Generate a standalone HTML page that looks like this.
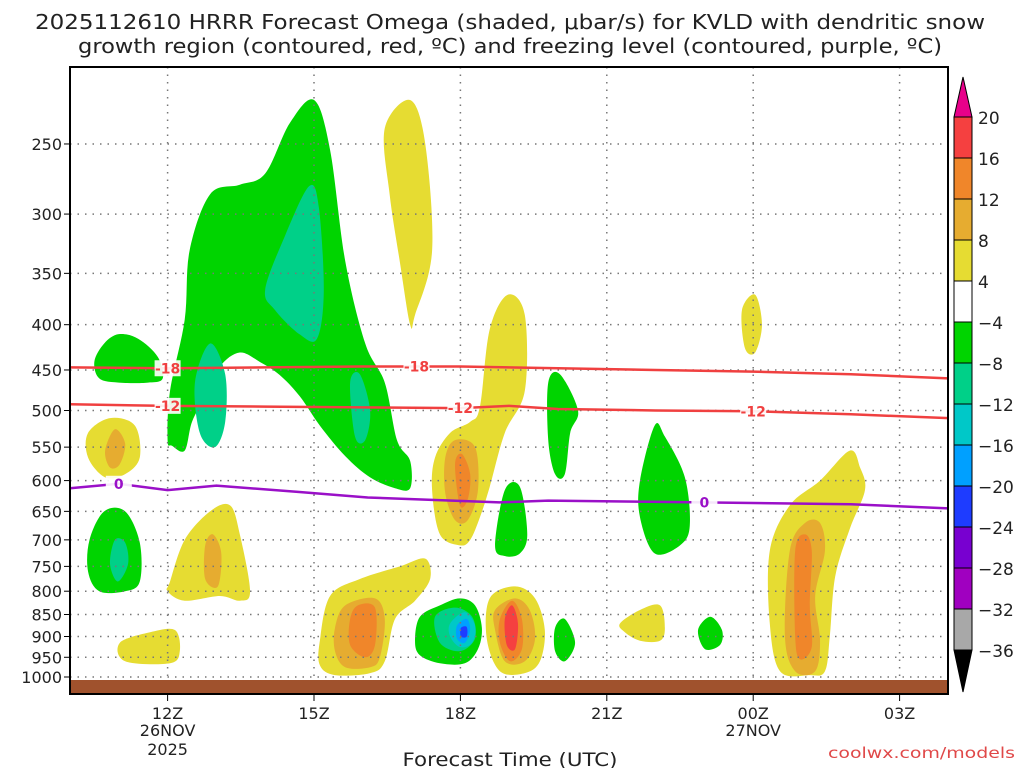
<!DOCTYPE html>
<html><head><meta charset="utf-8"><style>
body{margin:0;background:#fff;}
svg{display:block;font-family:"DejaVu Sans","Liberation Sans",sans-serif;}
</style></head><body>
<svg id="chart" width="1024" height="768" viewBox="0 0 1024 768" xmlns="http://www.w3.org/2000/svg">
<rect width="1024" height="768" fill="#fff"/>
<text x="510" y="29" font-size="20" text-anchor="middle" fill="#222" textLength="950" lengthAdjust="spacingAndGlyphs">2025112610 HRRR Forecast Omega (shaded, μbar/s) for KVLD with dendritic snow</text>
<text x="510" y="53" font-size="20" text-anchor="middle" fill="#222" textLength="864" lengthAdjust="spacingAndGlyphs">growth region (contoured, red, ºC) and freezing level (contoured, purple, ºC)</text>
<g id="shade"></g>
<g id="grid"></g>
<rect x="70" y="680" width="878" height="14" fill="#a0522d"/>
<g id="lines"></g>
<rect x="70" y="67" width="878" height="627" fill="none" stroke="#000" stroke-width="2"/>
<g id="axes"></g>
<g id="cbar"></g>
<text x="510" y="766" font-size="19" text-anchor="middle" fill="#222" textLength="215" lengthAdjust="spacingAndGlyphs">Forecast Time (UTC)</text>
<text x="1015" y="758" font-size="15" text-anchor="end" fill="#e04848" textLength="187" lengthAdjust="spacingAndGlyphs">coolwx.com/models</text>
</svg>
<script>
const pTicks=[250,300,350,400,450,500,550,600,650,700,750,800,850,900,950,1000];
const hourTicks=[12,15,18,21,24,27];
const hourLabels=["12Z","15Z","18Z","21Z","00Z","03Z"];
const cbLevels=["20","16","12","8","4","−4","−8","−12","−16","−20","−24","−28","−32","−36"];
const cbColors=["#f54040","#f0862a","#e6ac30","#e6dc32","#ffffff","#00d400","#00d088","#00c8c8","#00a0ff","#1e3cff","#7800d0","#a000c0","#a8a8a8"];
const C={y:"#e6dc32",g:"#e6ac30",o:"#f0862a",r:"#f54040",G:"#00d400",T:"#00d088",c:"#00c8c8",b:"#00a0ff",B:"#1e3cff"};
// shaded regions: [color, [[hour, hPa], ...]]
const regions=[
["G",[[10.5,440],[10.7,420],[11.0,410],[11.4,415],[11.8,435],[11.9,460],[11.6,465],[11.0,465],[10.6,460]]],
["G",[[12.0,540],[12.05,475],[12.35,395],[12.45,330],[12.87,285],[13.48,278],[14.0,270],[14.5,237],[15.0,223],[15.33,254],[15.64,339],[16.05,420],[16.45,465],[16.7,540],[16.97,570],[16.97,612],[16.66,612],[16.15,595],[15.64,563],[15.12,520],[14.71,482],[14.3,456],[13.9,441],[13.48,430],[13.07,446],[12.77,482],[12.5,515],[12.35,555],[12.09,548]]],
["T",[[14.0,365],[14.4,318],[14.9,279],[15.1,295],[15.2,367],[15.06,415],[14.7,410],[14.2,385]]],
["T",[[12.56,465],[12.87,420],[13.18,455],[13.18,515],[12.97,550],[12.66,530]]],
["T",[[15.74,465],[15.94,455],[16.15,500],[16.05,540],[15.84,535]]],
["G",[[10.4,700],[10.7,650],[11.13,650],[11.43,705],[11.43,780],[11.13,800],[10.6,800],[10.37,760]]],
["T",[[10.92,700],[11.13,705],[11.19,745],[10.98,780],[10.82,745]]],
["y",[[16.45,240],[16.97,223],[17.28,250],[17.42,330],[17.07,390],[16.97,400],[16.76,340],[16.55,285]]],
["y",[[10.37,530],[10.82,510],[11.33,520],[11.43,565],[11.13,590],[10.72,595],[10.37,565]]],
["g",[[10.72,555],[10.92,525],[11.13,545],[11.02,575],[10.82,580]]],
["y",[[12.05,780],[12.35,700],[12.87,650],[13.28,640],[13.48,690],[13.69,800],[13.48,820],[13.07,810],[12.35,820],[12.0,800]]],
["g",[[12.77,710],[12.93,690],[13.1,725],[13.03,790],[12.77,775]]],
["y",[[11.02,915],[11.64,890],[12.15,885],[12.25,935],[12.05,965],[11.13,960]]],
["y",[[15.12,910],[15.33,810],[15.94,775],[16.76,750],[17.28,735],[17.38,775],[17.07,820],[16.66,860],[16.45,960],[16.15,990],[15.43,995],[15.12,970]]],
["g",[[15.43,880],[15.64,830],[16.25,815],[16.45,860],[16.35,950],[16.15,975],[15.64,975],[15.43,935]]],
["o",[[15.74,860],[15.9,830],[16.25,835],[16.25,920],[16.05,950],[15.74,920]]],
["y",[[17.48,565],[17.79,530],[18.2,515],[18.4,495],[18.6,405],[18.97,370],[19.32,390],[19.32,475],[18.91,530],[18.6,610],[18.4,660],[18.2,700],[17.99,710],[17.58,690],[17.42,615]]],
["g",[[17.69,565],[17.89,540],[18.3,550],[18.36,615],[18.15,665],[17.89,665],[17.69,620]]],
["o",[[17.89,575],[18.03,560],[18.2,590],[18.15,630],[17.99,640]]],
["y",[[18.6,815],[19.12,790],[19.53,815],[19.73,885],[19.63,960],[19.32,990],[18.81,985],[18.54,905]]],
["g",[[18.71,840],[19.12,815],[19.42,840],[19.53,905],[19.32,960],[18.91,960],[18.71,885]]],
["o",[[18.81,860],[19.06,820],[19.26,860],[19.26,930],[19.02,960],[18.81,915]]],
["r",[[18.91,860],[19.06,830],[19.18,870],[19.12,930],[18.95,920]]],
["y",[[21.27,870],[21.68,840],[22.09,830],[22.19,880],[22.09,910],[21.68,910],[21.37,890]]],
["y",[[23.77,385],[24.04,370],[24.18,400],[24.04,430],[23.83,425]]],
["y",[[24.34,720],[24.75,640],[25.37,600],[25.98,555],[26.19,580],[26.29,615],[25.98,680],[25.68,770],[25.57,900],[25.47,985],[25.16,995],[24.55,985],[24.34,870]]],
["g",[[24.75,720],[25.06,670],[25.37,670],[25.47,720],[25.27,810],[25.37,910],[25.27,985],[24.86,985],[24.65,900]]],
["o",[[24.86,720],[25.06,690],[25.2,720],[25.16,830],[25.2,925],[24.96,955],[24.86,900]]],
["G",[[19.8,465],[20.04,455],[20.41,500],[20.25,530],[20.14,590],[19.94,590],[19.8,540]]],
["G",[[18.91,615],[19.22,610],[19.37,690],[19.22,725],[18.91,730],[18.71,710]]],
["G",[[21.68,600],[21.98,520],[22.19,535],[22.6,595],[22.7,675],[22.5,710],[21.98,725],[21.68,660]]],
["G",[[22.87,885],[23.12,855],[23.36,885],[23.32,920],[23.01,930]]],
["G",[[19.94,880],[20.14,860],[20.35,915],[20.14,960],[19.94,935]]],
["G",[[17.17,855],[17.58,830],[17.99,815],[18.3,830],[18.44,880],[18.36,930],[18.09,965],[17.58,965],[17.17,945],[17.07,910]]],
["T",[[17.48,855],[17.89,835],[18.24,855],[18.3,905],[17.99,935],[17.58,915]]],
["c",[[17.79,870],[18.09,845],[18.3,875],[18.24,915],[17.99,925],[17.79,900]]],
["b",[[17.93,875],[18.13,860],[18.2,885],[18.09,915],[17.93,905]]],
["B",[[18.01,880],[18.13,878],[18.13,900],[18.01,900]]]
];
const m18Hours=[10,12,14,16,18,20,22,24,26,28];
const m18P=[447,448,447,446,446,448,450,452,455,460];
const m12Hours=[10,12,14,16,18,19,20,22,24,26,28];
const m12P=[492,494,495,496,497,494,498,500,501,505,510];
const fzHours=[10,11,12,13,14.7,16.1,18.8,19.8,21.9,24,26,28];
const fzP=[612,605,615,608,618,627,635,632,634,636,638,645];

const NS="http://www.w3.org/2000/svg";
const X=h=>70+(h-10)*48.8;
const Y=p=>677-(Math.log(1000)-Math.log(p))*384.5;
function mk(tag,attrs,parent){const e=document.createElementNS(NS,tag);for(const k in attrs)e.setAttribute(k,attrs[k]);parent.appendChild(e);return e;}
function smooth(pts){const n=pts.length;let d=`M${pts[0][0]},${pts[0][1]}`;
for(let i=0;i<n;i++){const p0=pts[(i-1+n)%n],p1=pts[i],p2=pts[(i+1)%n],p3=pts[(i+2)%n];
d+=` C${p1[0]+(p2[0]-p0[0])/6},${p1[1]+(p2[1]-p0[1])/6} ${p2[0]-(p3[0]-p1[0])/6},${p2[1]-(p3[1]-p1[1])/6} ${p2[0]},${p2[1]}`;}return d+"Z";}
const shade=document.getElementById('shade');
regions.forEach(r=>{const pts=r[1].map(q=>[X(q[0]),Y(q[1])]);
const e=mk('path',{d:smooth(pts),fill:C[r[0]]},shade);

});
const grid=document.getElementById('grid');
pTicks.forEach(p=>{const e=mk('line',{x1:70,x2:948,y1:Y(p),y2:Y(p),stroke:"#777","stroke-width":1.5,"stroke-dasharray":"1.5 6"},grid);

});
hourTicks.forEach(h=>{const e=mk('line',{x1:X(h),x2:X(h),y1:67,y2:694,stroke:"#777","stroke-width":1.5,"stroke-dasharray":"1.5 6"},grid);

});
const lines=document.getElementById('lines');
function drawLine(hs,ps,col,name,labels){const d=hs.map((h,i)=>(i?'L':'M')+X(h)+','+Y(ps[i])).join(' ');
const e=mk('path',{d:d,fill:"none",stroke:col,"stroke-width":2.5},lines);


labels.forEach(l=>{let i=0;while(i<hs.length-2&&hs[i+1]<l[0])i++;const t=(l[0]-hs[i])/(hs[i+1]-hs[i]);const p=ps[i]+(ps[i+1]-ps[i])*t;
const bg=mk('rect',{x:X(l[0])-13,y:Y(p)-8,width:26,height:16,fill:"#fff",opacity:0.9},lines);


const tx=mk('text',{x:X(l[0]),y:Y(p)+5,"font-size":14,"font-weight":"bold","text-anchor":"middle",fill:col},lines);


tx.textContent=l[1];});}
drawLine(m18Hours,m18P,"#f04040","contour-minus18",[[12,"-18"],[17.1,"-18"]]);
drawLine(m12Hours,m12P,"#f04040","contour-minus12",[[12,"-12"],[18,"-12"],[24,"-12"]]);
drawLine(fzHours,fzP,"#9a10c8","freezing-level",[[11,"0"],[23,"0"]]);
const axes=document.getElementById('axes');
pTicks.forEach(p=>{const t=mk('line',{x1:64,x2:70,y1:Y(p),y2:Y(p),stroke:"#000"},axes);


const e=mk('text',{x:62,y:Y(p)+6,"font-size":16,"text-anchor":"end",fill:"#222"},axes);


e.textContent=p;});
hourTicks.forEach((h,i)=>{const t=mk('line',{x1:X(h),x2:X(h),y1:694,y2:701,stroke:"#000"},axes);


const e=mk('text',{x:X(h),y:719,"font-size":16,"text-anchor":"middle",fill:"#222"},axes);


e.textContent=hourLabels[i];});
[[12,736,"26NOV"],[12,755,"2025"],[24,736,"27NOV"]].forEach(d=>{const e=mk('text',{x:X(d[0]),y:d[1],"font-size":16,"text-anchor":"middle",fill:"#222"},axes);


e.textContent=d[2];});
const cb=document.getElementById('cbar');
const cbTop=117,bh=41,x0=954,x1=972;
const up=mk('path',{d:`M${x0},${cbTop} L${(x0+x1)/2},77 L${x1},${cbTop}Z`,fill:"#e8008a",stroke:"#000"},cb);


cbColors.forEach((c,i)=>{const e=mk('rect',{x:x0,y:cbTop+i*bh,width:x1-x0,height:bh,fill:c,stroke:"#000"},cb);

});
const cbBot=cbTop+cbColors.length*bh;
const dn=mk('path',{d:`M${x0},${cbBot} L${(x0+x1)/2},692 L${x1},${cbBot}Z`,fill:"#000",stroke:"#000"},cb);


cbLevels.forEach((l,i)=>{const e=mk('text',{x:978,y:cbTop+i*bh+7,"font-size":17,fill:"#222"},cb);


e.textContent=l;});
</script>
</body></html>
